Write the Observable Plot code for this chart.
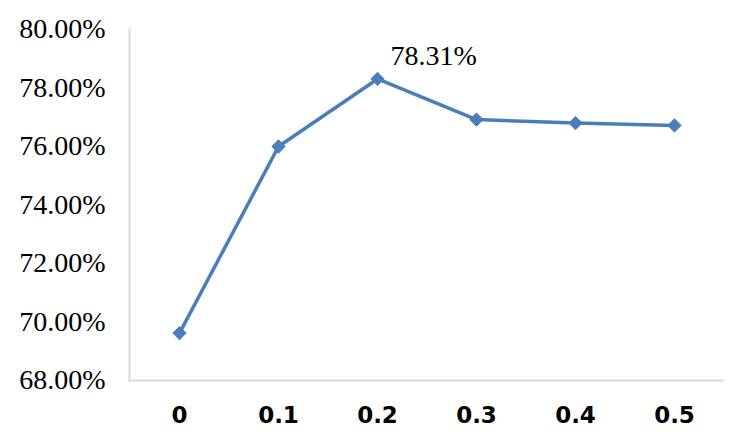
<!DOCTYPE html>
<html>
<head>
<meta charset="utf-8">
<script src="https://cdn.jsdelivr.net/npm/d3@7"></script>
<script src="https://cdn.jsdelivr.net/npm/@observablehq/plot@0.6"></script>
<style>
html,body{margin:0;padding:0;background:#fff;}
</style>
</head>
<body>
<div id="chart"></div>
<script>
const categories = ["0", "0.1", "0.2", "0.3", "0.4", "0.5"];
const accuracy = [69.62, 76.0, 78.31, 76.92, 76.8, 76.72];
const yTicks = [68, 70, 72, 74, 76, 78, 80];
const annotationIndex = 2;
const annotationLabel = "78.31%";

const data = categories.map((c, i) => ({x: c, y: accuracy[i]}));
const color = "#4a7ebb";
const axisColor = "#d9d9d9";

const chart = Plot.plot({
  width: 745,
  height: 447,
  marginLeft: 129,
  marginRight: 21,
  marginTop: 29,
  marginBottom: 67,
  style: {background: "#fff"},
  x: {type: "point", domain: categories, padding: 0.5, label: null},
  y: {domain: [68, 80], label: null},
  marks: [
    Plot.frame({anchor: "left", stroke: axisColor, strokeWidth: 2}),
    Plot.ruleY([68], {stroke: axisColor, strokeWidth: 2}),
    Plot.axisY({ticks: yTicks, tickSize: 0, tickPadding: 24, tickFormat: d => d.toFixed(2) + "%",
      fontFamily: "Liberation Serif", fontSize: 28, fill: "#000", label: null}),
    Plot.axisX({tickSize: 0, tickPadding: 26, fontFamily: "DejaVu Sans", fontWeight: "bold", fontSize: 23, fill: "#000", label: null}),
    Plot.line(data, {x: "x", y: "y", stroke: color, strokeWidth: 3.5}),
    Plot.dot(data, {x: "x", y: "y", symbol: "diamond2", r: 6, fill: color, stroke: color, strokeWidth: 1}),
    Plot.text([data[annotationIndex]], {x: "x", y: "y", text: () => annotationLabel, textAnchor: "start", dx: 13, dy: -23,
      fontFamily: "Liberation Serif", fontSize: 28, fill: "#000"})
  ]
});
document.getElementById("chart").appendChild(chart);
</script>
</body>
</html>
